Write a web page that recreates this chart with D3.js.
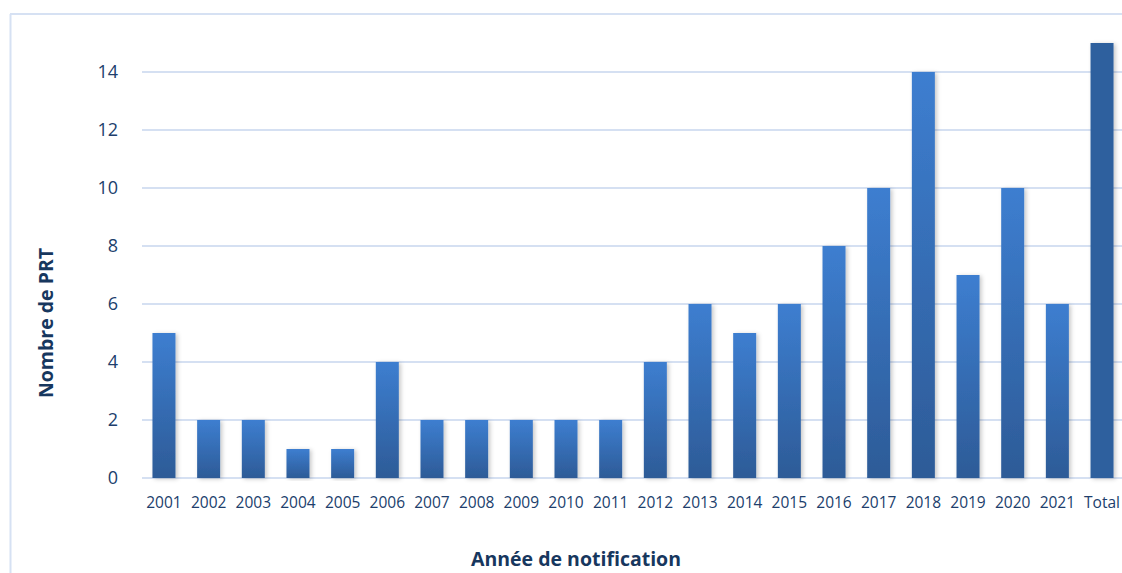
<!DOCTYPE html>
<html><head><meta charset="utf-8">
<script src="https://cdn.jsdelivr.net/npm/d3@7"></script>
<style>html,body{margin:0;padding:0;background:#fff;}svg{display:block;}</style>
</head><body>
<script>
const categories = ["2001","2002","2003","2004","2005","2006","2007","2008","2009","2010","2011","2012","2013","2014","2015","2016","2017","2018","2019","2020","2021","Total"];
const values = [5,2,2,1,1,4,2,2,2,2,2,4,6,5,6,8,10,14,7,10,6,15];
const yTicks = [0,2,4,6,8,10,12,14];
const yTitle = "Nombre de PRT";
const xTitle = "Année de notification";

const W = 1122, H = 573;
const svg = d3.select("body").append("svg").attr("width", W).attr("height", H);
const defs = svg.append("defs");
const grad = defs.append("linearGradient").attr("id","barGrad").attr("x1",0).attr("y1",0).attr("x2",0).attr("y2",1);
grad.append("stop").attr("offset","0%").attr("stop-color","#3d7ed0");
grad.append("stop").attr("offset","100%").attr("stop-color","#2d5b97");
const f = defs.append("filter").attr("id","shadow").attr("x","-30%").attr("y","-10%").attr("width","160%").attr("height","120%");
f.append("feDropShadow").attr("dx",2).attr("dy",1).attr("stdDeviation",2).attr("flood-color","#000").attr("flood-opacity",0.22);

// frame
svg.append("line").attr("x1",10.5).attr("x2",10.5).attr("y1",14).attr("y2",H).attr("stroke","#d6e1f3").attr("stroke-width",2);
svg.append("line").attr("x1",10).attr("x2",W).attr("y1",14).attr("y2",14).attr("stroke","#d6e1f3").attr("stroke-width",2);

const p = 0.485;
const x = d3.scaleBand().domain(categories).range([130.8, 1135.2]).paddingInner(p).paddingOuter(p);
const y = d3.scaleLinear().domain([0,15]).range([478,43]);

// gridlines
svg.append("g").selectAll("line").data(yTicks).join("line")
  .attr("x1",142).attr("x2",W).attr("y1",d=>y(d)).attr("y2",d=>y(d))
  .attr("stroke","#d5e0f2").attr("stroke-width",2);

// y tick labels
svg.append("g").selectAll("text").data(yTicks).join("text")
  .attr("x",118).attr("y",d=>y(d)).attr("dy","0.36em").attr("text-anchor","end")
  .attr("font-family","'Open Sans', sans-serif").attr("font-size",18).attr("fill","#203e6c")
  .text(d=>d);

// bars
svg.append("g").selectAll("rect").data(categories).join("rect")
  .attr("x",d=>x(d)).attr("width",x.bandwidth())
  .attr("y",(d,i)=>y(values[i])).attr("height",(d,i)=>y(0)-y(values[i]))
  .attr("fill",d=> d==="Total" ? "#2e609e" : "url(#barGrad)")
  .attr("filter","url(#shadow)");

// x labels
svg.append("g").selectAll("text").data(categories).join("text")
  .attr("x",d=>x(d)+x.bandwidth()/2).attr("y",508).attr("text-anchor","middle")
  .attr("font-family","'Open Sans', sans-serif").attr("font-size",15.5).attr("fill","#203e6c")
  .text(d=>d);

// titles
svg.append("text").attr("transform","translate(53,323) rotate(-90)").attr("text-anchor","middle")
  .attr("font-family","'Open Sans', sans-serif").attr("font-weight","bold").attr("font-size",19.5).attr("fill","#17375e")
  .text(yTitle);
svg.append("text").attr("x",576).attr("y",566).attr("text-anchor","middle")
  .attr("font-family","'Open Sans', sans-serif").attr("font-weight","bold").attr("font-size",19.5).attr("fill","#17375e")
  .text(xTitle);
</script>
</body></html>
